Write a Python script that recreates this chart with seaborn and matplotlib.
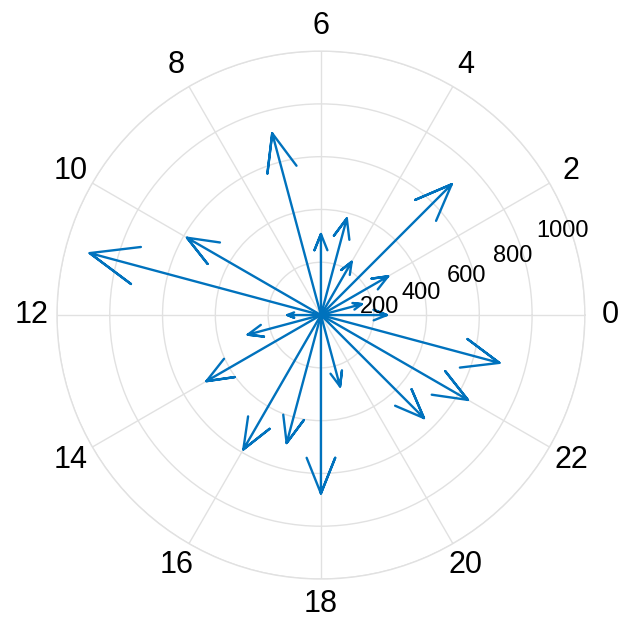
import numpy as np
import pandas as pd
import matplotlib
matplotlib.use("Agg")
import matplotlib.pyplot as plt
import seaborn as sns

# hour of day (angle = hour * 15 deg) and vector length
hours = [0, 1, 2, 3, 4, 5, 6, 7, 10, 11, 12, 13, 14, 16, 17, 18, 19, 21, 22, 23]
magnitude = [250, 160, 294, 701, 233, 379, 307, 713, 586, 907,
             127, 287, 501, 588, 502, 676, 280, 552, 643, 700]

theta_ticks = list(range(0, 24, 2))
r_ticks = [200, 400, 600, 800, 1000]

LINE_BLUE = "#0072BD"
GRID_GREY = "#e1e1e1"

sns.set_style("white")
plt.rcParams["font.family"] = ["Liberation Sans", "DejaVu Sans"]
plt.rcParams["text.color"] = "black"
plt.rcParams["xtick.color"] = "black"

# compass style arrow: shaft plus head, head scaled with the length
arrow_shape = np.array([0, 1, 0.8 + 0.08j, 1, 0.8 - 0.08j])
rows = []
for h, m in zip(hours, magnitude):
    z = m * np.exp(1j * np.deg2rad(h * 15))
    pts = arrow_shape * z
    for k, p in enumerate(pts):
        rows.append({"hour": h, "order": k, "theta": np.angle(p), "r": np.abs(p)})
df = pd.DataFrame(rows)

fig = plt.figure(figsize=(6.24, 6.24), dpi=100)
ax = fig.add_axes([0.0913, 0.0721, 0.846, 0.846], projection="polar")

sns.lineplot(data=df, x="theta", y="r", units="hour", estimator=None, sort=False,
             color=LINE_BLUE, linewidth=1.7, ax=ax, zorder=3)

ax.set_theta_zero_location("E")
ax.set_ylim(0, 1000)
ax.set_xticks(np.deg2rad(np.array(theta_ticks) * 15))
ax.set_xticklabels([str(t) for t in theta_ticks], fontsize=22, color="black")
ax.set_yticks(r_ticks)
ax.set_yticklabels([])
ax.tick_params(axis="x", pad=11, length=0)
ax.tick_params(axis="y", length=0)
ax.grid(True, color=GRID_GREY, linewidth=1.0)
ax.spines["polar"].set_color(GRID_GREY)
ax.spines["polar"].set_linewidth(1.0)
ax.set_xlabel("")
ax.set_ylabel("")

# radial labels, placed like the MATLAB compass
label_pos = [(2.9, 148), (11.2, 312), (14.8, 492), (17.2, 682), (19.95, 869)]
for rt, (ang, rr) in zip(r_ticks, label_pos):
    ax.text(np.deg2rad(ang), rr, str(rt), fontsize=17, ha="left", va="baseline",
            color="black", zorder=4)

plt.savefig("out.png", dpi=100)
